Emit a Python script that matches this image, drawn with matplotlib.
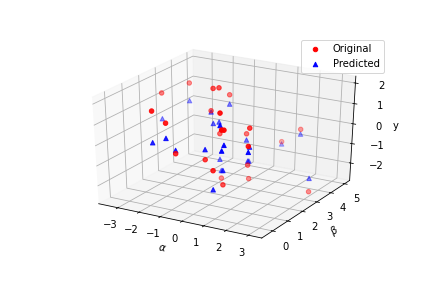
import numpy as np
import matplotlib
matplotlib.use("Agg")
import matplotlib.pyplot as plt

alpha = [-3.0, -3.44, -0.84, -0.68, -1.07, -1.44, -0.83, -1.2, 0.96, 1.56, 1.63, -0.38, -0.41, 0.42, 1.4, 0.29, 2.36, 0.55, 1.38, 1.25, -0.33, 1.01, 0.84, 0.63, 2.89]
beta = [3.89, 2.73, 2.46, 2.61, 3.84, -0.45, -0.45, 2.82, 0.39, -0.21, -0.45, 2.24, -0.45, 0.21, 1.63, 3.03, 0.16, 5.07, 5.13, -0.45, 2.26, 0.49, 2.33, 2.71, 3.49]
y_orig = [1.39, 1.27, 2.07, 2.07, 1.18, 2.05, 1.6, 0.78, 2.07, 1.64, 1.76, 0.05, 0.23, -0.18, 0.93, -0.16, 0.88, -1.38, -0.61, -0.24, -2.19, -1.42, -1.31, -2.22, -2.77]
y_pred = [0.51, -0.01, 0.37, 0.41, 0.72, 0.55, 0.88, 0.72, 1.49, 0.93, 0.78, -1.23, 0.39, 0.31, 0.01, -0.47, 0.6, -1.5, -0.85, -1.17, -1.8, -0.71, -1.11, -1.32, -2.08]

fig = plt.figure(figsize=(6, 4), dpi=72)
ax = fig.add_subplot(111, projection='3d', computed_zorder=False)
# keep the full stretched axes box, like older mplot3d
ax.apply_aspect = lambda position=None: None
ax.set_position([0.1095, 0.111, 0.806, 0.781])
ax.set_box_aspect((1, 1, 1), zoom=0.90888)

ax.scatter(alpha, beta, y_orig, c='r', marker='o', label='Original', zorder=2)
ax.scatter(alpha, beta, y_pred, c='b', marker='^', label='Predicted', zorder=1)

ax.set_xlim(-3.92, 3.59)
ax.set_ylim(-0.7, 5.38)
ax.set_zlim(-2.91, 2.33)
ax.set_xticks(np.arange(-3, 4))
ax.set_yticks(np.arange(0, 6))
ax.set_zticks(np.arange(-2, 3))
ax.tick_params(axis='z', pad=7.5)
ax.set_xlabel(r'$\alpha$')
ax.set_ylabel(r'$\beta$')
ax.set_zlabel('y')
ax.zaxis.labelpad = 5
ax.legend(loc='upper right', bbox_to_anchor=(0.9, 0.88), bbox_transform=fig.transFigure)

fig.savefig('out.png', dpi=72)
